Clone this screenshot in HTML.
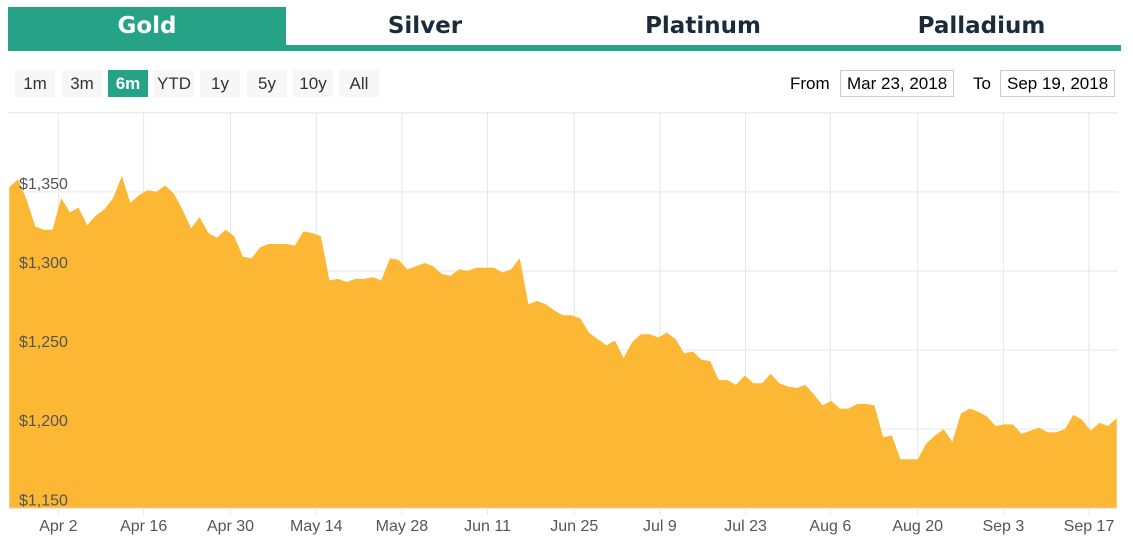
<!DOCTYPE html>
<html><head><meta charset="utf-8">
<style>
body{margin:0;width:1133px;height:547px;background:#fff;font-family:"Liberation Sans",sans-serif;overflow:hidden;position:relative}
.tab{position:absolute;top:7px;height:38px;line-height:38px;text-align:center;font-family:"DejaVu Sans","Liberation Sans",sans-serif;font-weight:bold;font-size:23px;color:#1c2b39}
.btn{position:absolute;top:70px;width:40px;height:27px;line-height:27px;text-align:center;background:#f7f7f7;color:#333;font-size:17px}
.lbl{position:absolute;top:70px;line-height:27px;font-size:17px;color:#000}
.box{position:absolute;top:70px;height:25px;line-height:25px;border:1px solid #ccc;font-size:17px;padding:0 6px;color:#000}
</style></head><body>
<div class="tab" style="left:8px;width:278px;background:#26a386;color:#fff">Gold</div>
<div class="tab" style="left:286px;width:278px">Silver</div>
<div class="tab" style="left:564px;width:278px">Platinum</div>
<div class="tab" style="left:842px;width:279px">Palladium</div>
<div style="position:absolute;left:8px;top:45px;width:1113px;height:6px;background:#26a386"></div>

<div class="btn" style="left:15px">1m</div>
<div class="btn" style="left:62px">3m</div>
<div class="btn" style="left:108px;background:#26a386;color:#fff;font-weight:bold">6m</div>
<div class="btn" style="left:154px">YTD</div>
<div class="btn" style="left:200px">1y</div>
<div class="btn" style="left:247px">5y</div>
<div class="btn" style="left:293px">10y</div>
<div class="btn" style="left:339px">All</div>

<div class="lbl" style="left:790px">From</div>
<div class="box" style="left:840px">Mar 23, 2018</div>
<div class="lbl" style="left:973px">To</div>
<div class="box" style="left:1000px">Sep 19, 2018</div>

<svg id="chart" width="1133" height="547" style="position:absolute;left:0;top:0"></svg>
<script>
const prices=[1353,1358,1345,1328,1326,1326,1346,1337,1340,1329,1335,1339,1346,1360,1343,1348,1351,1350,1354,1349,1339,1327,1334,1324,1321,1326,1322,1309,1308,1315,1317,1317,1317,1316,1325,1324,1322,1294,1295,1293,1295,1295,1296,1294,
1308,1307,1301,1303,1305,1303,1298,1297,1301,1300,1302,1302,1302,1299,1301,1308,1279,1281,1279,1275,1272,1272,1270,1261,1257,1253,1256,1245,1255,1260,1260,1258,1261,1257,1248,1249,1244,1243,1231,1231,1228,1234,
1229,1229,1235,1229,1227,1226,1228,1222,1215,1218,1213,1213,1216,1216,1215,1195,1196,1181,1181,1181,1191,1196,1200,1192,1210,1213,1211,1208,1202,1203,1203,1197,1199,1201,1198,1198,1200,1209,1206,1199,1204,1202,1207];
const tickLabels=["Apr 2","Apr 16","Apr 30","May 14","May 28","Jun 11","Jun 25","Jul 9","Jul 23","Aug 6","Aug 20","Sep 3","Sep 17"];
const tickIndex=[5.67,15.53,25.57,35.48,45.38,55.28,65.3,75.2,85.1,94.9,105.0,114.9,124.8];
const yTicks=[1150,1200,1250,1300,1350,1400];
const yMin=1150,yMax=1400;
const L=8,R=1118,T=112.7,B=508.3,X0=9.3,X1=1116.7;
const svg=document.getElementById('chart');const NS='http://www.w3.org/2000/svg';
const xs=i=>X0+(X1-X0)*i/(prices.length-1);
const ys=v=>B-(v-yMin)/(yMax-yMin)*(B-T);
function mk(t,a){const e=document.createElementNS(NS,t);for(const k in a)e.setAttribute(k,a[k]);svg.appendChild(e);return e;}
yTicks.forEach(v=>{
 const g=mk('line',{x1:L,x2:R,y1:ys(v),y2:ys(v),stroke:'#e6e6e6','stroke-width':1});
 
 
});
tickIndex.forEach((ti,k)=>{
 const x=xs(ti);
 const g=mk('line',{x1:x,x2:x,y1:T,y2:515,stroke:'#e6e6e6','stroke-width':1});
 
 
 const t=mk('text',{x:x,y:531,'text-anchor':'middle','font-size':16,fill:'#555','font-family':'Liberation Sans, sans-serif'});
 t.textContent=tickLabels[k];
 
 
});
let d='M'+xs(0)+','+B;
prices.forEach((v,i)=>{d+=' L'+xs(i).toFixed(1)+','+ys(v).toFixed(1);});
d+=' L'+xs(prices.length-1)+','+B+' Z';
const area=mk('path',{d:d,fill:'#fcb834'});


const base=mk('line',{x1:L,x2:R,y1:B,y2:B,stroke:'#e6e6e6','stroke-width':1});


yTicks.slice(0,5).forEach(v=>{
 const t=mk('text',{x:19,y:ys(v)-3,'font-size':16,fill:'#555','font-family':'Liberation Sans, sans-serif'});
 t.textContent='$'+v.toLocaleString('en-US');
 
 
});
</script>
</body></html>
